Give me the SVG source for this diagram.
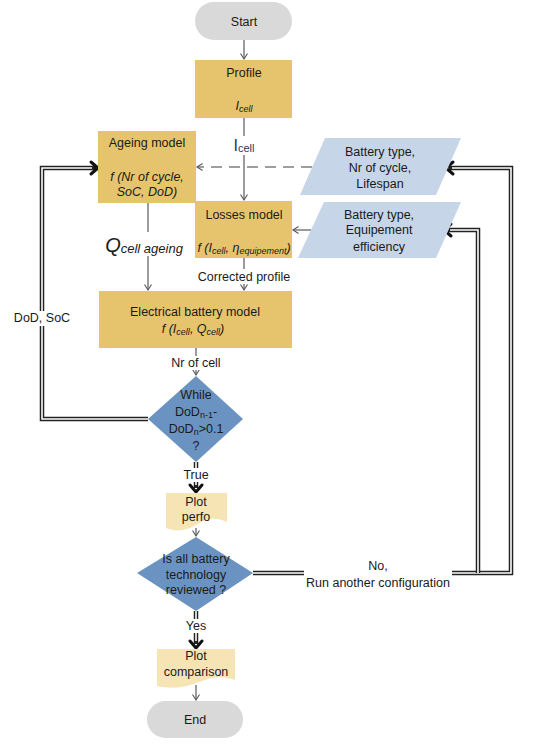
<svg xmlns="http://www.w3.org/2000/svg" width="536" height="752" viewBox="0 0 536 752">
<defs>
<style>
text{font-family:"Liberation Sans",Arial,sans-serif;font-size:12.5px;fill:#1a1a1a;text-anchor:middle}
.it{font-style:italic}
.sub{font-size:9px}
.box{fill:#E6C46E}
.pill{fill:#D9D9D9}
.para{fill:#C6D5E7}
.dia{fill:#6B93C1}
.doc{fill:#F6E4B5}
.thin{fill:none;stroke:#595959;stroke-width:1.2;marker-end:url(#ah)}
.dash{fill:none;stroke:#7F7F7F;stroke-width:1.6;stroke-dasharray:11 7;marker-end:url(#ah)}
.dblo{fill:none;stroke:#222;stroke-width:4.5}
.dbli{fill:none;stroke:#fff;stroke-width:1.6}
.chev{fill:none;stroke:#111;stroke-width:3;stroke-linecap:round;stroke-linejoin:round}
.bg{fill:#fff}
</style>
<marker id="ah" markerUnits="userSpaceOnUse" markerWidth="10" markerHeight="10" refX="6" refY="4" orient="auto">
<path d="M0.5,0.5 L6,4 L0.5,7.5" fill="none" stroke="#595959" stroke-width="1.1"/>
</marker>
</defs>

<g id="connectors">
<path class="thin" d="M244,40 V59"/>
<path class="thin" d="M244,118 V200"/>
<path class="thin" d="M244,258 V290"/>
<path class="thin" d="M148,203 V290"/>
<path class="thin" d="M196,348 V375"/>
<path class="thin" d="M196,528 V536"/>
<path class="thin" d="M196,685 V700"/>
<path class="dash" d="M312,167 H197"/>
<path class="thin" d="M311,230 H293"/>
<path class="dblo" d="M148,419 H42 V168 H96"/>
<path class="dbli" d="M148,419 H42 V168 H92"/>
<path class="chev" d="M91,162 L98,168 L91,174"/>
<path class="dblo" d="M253,573 H511 V168 H449"/>
<path class="dbli" d="M253,573 H511 V168 H452"/>
<path class="chev" d="M453,162 L446,168 L453,174"/>
<path class="dblo" d="M478,573 V230 H447"/>
<path class="dbli" d="M478,573 V230 H450"/>
<path class="chev" d="M451,224 L444,230 L451,236"/>
<path class="dblo" d="M196,462 V488"/>
<path class="dbli" d="M196,462 V485"/>
<path class="chev" d="M190,485 L196,492 L202,485"/>
<path class="dblo" d="M196,611 V644"/>
<path class="dbli" d="M196,611 V641"/>
<path class="chev" d="M190,641 L196,648 L202,641"/>
<rect class="bg" x="232" y="136" width="26" height="19"/>
<text x="244" y="151" style="fill:#1F3864"><tspan font-size="16">I</tspan><tspan font-size="11" dy="1">cell</tspan></text>
<rect class="bg" x="104" y="232" width="80" height="24"/>
<text x="144" y="252" class="it"><tspan font-size="20">Q</tspan><tspan font-size="13" dy="1">cell ageing</tspan></text>
<rect class="bg" x="195" y="269" width="98" height="15"/>
<text x="244" y="281">Corrected profile</text>
<rect class="bg" x="165" y="356" width="62" height="14"/>
<text x="196" y="367">Nr of cell</text>
<rect class="bg" x="14" y="311" width="57" height="15"/>
<text x="42" y="322">DoD, SoC</text>
<rect class="bg" x="180" y="468" width="32" height="14"/>
<text x="196" y="479">True</text>
<rect class="bg" x="182" y="619" width="28" height="14"/>
<text x="196" y="630">Yes</text>
<rect class="bg" x="304" y="558" width="148" height="32"/>
<text x="378" y="570">No,</text>
<text x="378" y="587">Run another configuration</text>
</g>

<g id="start">
<rect class="pill" x="195" y="2" width="97" height="38" rx="19"/>
<text x="244" y="26">Start</text>
</g>

<g id="profile">
<rect class="box" x="195" y="60" width="97" height="58"/>
<text x="244" y="77">Profile</text>
<text x="244" y="110" class="it">I<tspan class="sub" dy="2">cell</tspan></text>
</g>

<g id="ageing-model">
<rect class="box" x="98" y="131" width="98" height="72"/>
<text x="147" y="147">Ageing model</text>
<text x="147" y="181" class="it">f (Nr of cycle,</text>
<text x="147" y="196" class="it">SoC, DoD)</text>
</g>

<g id="losses-model">
<rect class="box" x="195" y="201" width="97" height="57"/>
<text x="244" y="219">Losses model</text>
<text x="244" y="252" class="it" font-size="11">f (I<tspan class="sub" dy="2">cell</tspan><tspan dy="-2">, η</tspan><tspan class="sub" dy="2">equipement</tspan><tspan dy="-2">)</tspan></text>
</g>

<g id="battery-type-1">
<polygon class="para" points="325,138 461,138 436,195 300,195"/>
<text x="380" y="156">Battery type,</text>
<text x="380" y="172">Nr of cycle,</text>
<text x="380" y="188">Lifespan</text>
</g>

<g id="battery-type-2">
<polygon class="para" points="324,202 461,202 436,258 298,258"/>
<text x="379" y="219">Battery type,</text>
<text x="379" y="234">Equipement</text>
<text x="379" y="251">efficiency</text>
</g>

<g id="electrical-model">
<rect class="box" x="99" y="291" width="193" height="57"/>
<text x="195" y="316">Electrical battery model</text>
<text x="193" y="333" class="it">f (I<tspan class="sub" dy="2">cell</tspan><tspan dy="-2">, Q</tspan><tspan class="sub" dy="2">cell</tspan><tspan dy="-2">)</tspan></text>
</g>

<g id="while-dod">
<polygon class="dia" points="196,376 243,419 196,462 148,419"/>
<text x="196" y="399">While</text>
<text x="196" y="416">DoD<tspan class="sub" dy="2">n-1</tspan><tspan dy="-2">-</tspan></text>
<text x="196" y="433">DoD<tspan class="sub" dy="2">n</tspan><tspan dy="-2">&gt;0.1</tspan></text>
<text x="196" y="450">?</text>
</g>

<g id="plot-perfo">
<path class="doc" d="M166,493 H227 V522 C214,516 205,519 196,525 C186,531 176,532 166,528 Z"/>
<text x="196" y="506">Plot</text>
<text x="196" y="521">perfo</text>
</g>

<g id="all-reviewed">
<polygon class="dia" points="196,537 253,573 196,611 137,573"/>
<text x="196" y="563">Is all battery</text>
<text x="196" y="579">technology</text>
<text x="196" y="594">reviewed ?</text>
</g>

<g id="plot-comparison">
<path class="doc" d="M157,649 H235 V680 C222,675 211,677 196,683 C184,688 170,689 157,686 Z"/>
<text x="196" y="660">Plot</text>
<text x="196" y="676">comparison</text>
</g>

<g id="end">
<rect class="pill" x="147" y="701" width="96" height="37" rx="18.5"/>
<text x="195" y="724">End</text>
</g>
</svg>
